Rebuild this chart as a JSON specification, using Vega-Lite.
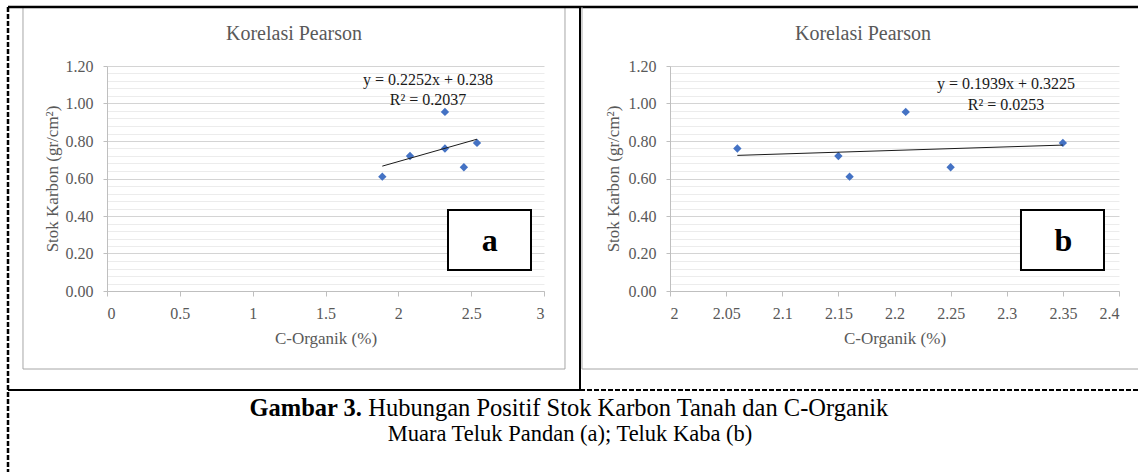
{
  "$schema": "https://vega.github.io/schema/vega-lite/v6.json",
  "padding": 0,
  "autosize": {"type": "pad"},
  "bounds": "flush",
  "spacing": 126,
  "background": "white",
  "config": {
    "view": {"stroke": null},
    "axis": {
      "labelFont": "Liberation Serif",
      "labelFontSize": 16,
      "labelColor": "#595959",
      "titleFont": "Liberation Serif",
      "titleFontSize": 17,
      "titleFontWeight": "normal",
      "titleColor": "#595959",
      "domainColor": "#bfbfbf",
      "tickColor": "#bfbfbf"
    },
    "text": {"font": "Liberation Serif"}
  },
  "hconcat": [
    {
      "width": 437,
      "height": 225,
      "data": {"values": [
        {"x": 1.89, "y": 0.61},
        {"x": 2.08, "y": 0.72},
        {"x": 2.32, "y": 0.76},
        {"x": 2.32, "y": 0.955},
        {"x": 2.45, "y": 0.66},
        {"x": 2.54, "y": 0.79}
      ]},
      "layer": [
        {
          "data": {"values": [{}]},
          "mark": {"type": "rect", "fill": "white", "opacity": 0},
          "encoding": {
            "x": {"datum": -0.72769, "type": "quantitative", "scale": {"domain": [0, 3], "nice": false, "zero": false}},
            "x2": {"datum": 7.08467},
            "y": {"datum": 1.54667, "type": "quantitative", "scale": {"domain": [0, 1.2], "nice": false, "zero": false}},
            "y2": {"datum": -0.97067}
          }
        },
        {
          "data": {"values": [{}]},
          "mark": {"type": "rect", "filled": false, "stroke": "#a6a6a6", "strokeWidth": 1},
          "encoding": {
            "x": {"datum": -0.57666, "type": "quantitative"},
            "x2": {"datum": 3.14416},
            "y": {"datum": 1.51467, "type": "quantitative"},
            "y2": {"datum": -0.416}
          }
        },
        {
          "mark": {"type": "point", "shape": "diamond", "filled": true, "color": "#4472C4", "size": 70, "opacity": 1},
          "encoding": {
            "x": {
              "field": "x", "type": "quantitative",
              "scale": {"domain": [0, 3], "nice": false, "zero": false},
              "axis": {
                "title": "C-Organik (%)",
                "values": [0, 0.5, 1, 1.5, 2, 2.5, 3],
                "tickCount": 100,
                "format": "~g",
                "grid": false,
                "tickSize": 5,
                "labelPadding": 9,
                "titlePadding": 9,
                "labelFont": "Liberation Serif",
                "titleFont": "Liberation Serif"
              }
            },
            "y": {
              "field": "y", "type": "quantitative",
              "scale": {"domain": [0, 1.2], "nice": false, "zero": false},
              "axis": {
                "title": "Stok Karbon (gr/cm²)",
                "values": [0, 0.04, 0.08, 0.12, 0.16, 0.2, 0.24, 0.28, 0.32, 0.36, 0.4, 0.44, 0.48, 0.52, 0.56, 0.6, 0.64, 0.68, 0.72, 0.76, 0.8, 0.84, 0.88, 0.92, 0.96, 1, 1.04, 1.08, 1.12, 1.16, 1.2],
                "tickCount": 100,
                "labelExpr": "abs(datum.value*5-round(datum.value*5))<0.001 ? format(datum.value, '.2f') : ''",
                "labelOverlap": false,
                "grid": true,
                "gridColor": {"condition": {"test": "abs(datum.value*5-round(datum.value*5))<0.001", "value": "#d4d4d4"}, "value": "#ececec"},
                "tickOpacity": {"condition": {"test": "abs(datum.value*5-round(datum.value*5))<0.001", "value": 1}, "value": 0},
                "tickSize": 4,
                "labelPadding": 10,
                "titlePadding": 4,
                "labelFont": "Liberation Serif",
                "titleFont": "Liberation Serif"
              }
            }
          }
        },
        {
          "transform": [{"regression": "y", "on": "x"}],
          "mark": {"type": "line", "color": "#1a1a1a", "strokeWidth": 1},
          "encoding": {
            "x": {"field": "x", "type": "quantitative"},
            "y": {"field": "y", "type": "quantitative"}
          }
        },
        {
          "data": {"values": [{"t": "Korelasi Pearson"}]},
          "mark": {"type": "text", "fontSize": 20, "color": "#595959", "align": "center", "baseline": "middle"},
          "encoding": {
            "x": {"datum": 1.28375, "type": "quantitative"},
            "y": {"datum": 1.37067, "type": "quantitative"},
            "text": {"field": "t"}
          }
        },
        {
          "data": {"values": [{"t": "y = 0.2252x + 0.238", "ty": 1.1253}, {"t": "R² = 0.2037", "ty": 1.0171}]},
          "mark": {"type": "text", "fontSize": 16, "color": "#1a1a1a", "align": "center", "baseline": "middle"},
          "encoding": {
            "x": {"datum": 2.20366, "type": "quantitative"},
            "y": {"field": "ty", "type": "quantitative"},
            "text": {"field": "t"}
          }
        },
        {
          "data": {"values": [{}]},
          "mark": {"type": "rect", "fill": "white", "stroke": "black", "strokeWidth": 2},
          "encoding": {
            "x": {"datum": 2.34096, "type": "quantitative"},
            "x2": {"datum": 2.91076},
            "y": {"datum": 0.432, "type": "quantitative"},
            "y2": {"datum": 0.112}
          }
        },
        {
          "data": {"values": [{"t": "a"}]},
          "mark": {"type": "text", "fontSize": 32, "fontWeight": "bold", "color": "black", "align": "center", "baseline": "alphabetic"},
          "encoding": {
            "x": {"datum": 2.62723, "type": "quantitative"},
            "y": {"datum": 0.21333, "type": "quantitative"},
            "text": {"field": "t"}
          }
        },
        {
          "data": {"values": [{}]},
          "mark": {"type": "rule", "color": "black", "strokeWidth": 2.5},
          "encoding": {
            "x": {"datum": -0.67963, "type": "quantitative"},
            "x2": {"datum": 7.08467},
            "y": {"datum": 1.51467, "type": "quantitative"}
          }
        },
        {
          "data": {"values": [{}]},
          "mark": {"type": "rule", "color": "black", "strokeWidth": 2.5, "strokeDash": [5, 2]},
          "encoding": {
            "x": {"datum": -0.67963, "type": "quantitative"},
            "y": {"datum": 1.51467, "type": "quantitative"},
            "y2": {"datum": -0.97067}
          }
        },
        {
          "data": {"values": [{}]},
          "mark": {"type": "rule", "color": "black", "strokeWidth": 2},
          "encoding": {
            "x": {"datum": 3.24714, "type": "quantitative"},
            "y": {"datum": 1.51467, "type": "quantitative"},
            "y2": {"datum": -0.528}
          }
        },
        {
          "data": {"values": [{}]},
          "mark": {"type": "rule", "color": "black", "strokeWidth": 2},
          "encoding": {
            "x": {"datum": -0.67963, "type": "quantitative"},
            "x2": {"datum": 3.24714},
            "y": {"datum": -0.528, "type": "quantitative"}
          }
        },
        {
          "data": {"values": [{"t": "Gambar 3."}]},
          "mark": {"type": "text", "fontSize": 24.5, "fontWeight": "bold", "color": "black", "align": "right", "baseline": "alphabetic"},
          "encoding": {
            "x": {"datum": 1.75057, "type": "quantitative"},
            "y": {"datum": -0.6667, "type": "quantitative"},
            "text": {"field": "t"}
          }
        },
        {
          "data": {"values": [{"t": "Hubungan Positif Stok Karbon Tanah dan C-Organik"}]},
          "mark": {"type": "text", "fontSize": 24.5, "color": "black", "align": "left", "baseline": "alphabetic"},
          "encoding": {
            "x": {"datum": 1.79314, "type": "quantitative"},
            "y": {"datum": -0.6667, "type": "quantitative"},
            "text": {"field": "t"}
          }
        },
        {
          "data": {"values": [{"t": "Muara Teluk Pandan (a); Teluk Kaba (b)"}]},
          "mark": {"type": "text", "fontSize": 22.5, "color": "black", "align": "center", "baseline": "alphabetic"},
          "encoding": {
            "x": {"datum": 3.1785, "type": "quantitative"},
            "y": {"datum": -0.8, "type": "quantitative"},
            "text": {"field": "t"}
          }
        }
      ]
    },
    {
      "width": 449,
      "height": 225,
      "data": {"values": [
        {"x": 2.06, "y": 0.76},
        {"x": 2.15, "y": 0.72},
        {"x": 2.16, "y": 0.61},
        {"x": 2.21, "y": 0.955},
        {"x": 2.25, "y": 0.66},
        {"x": 2.35, "y": 0.79}
      ]},
      "layer": [
        {
          "mark": {"type": "point", "shape": "diamond", "filled": true, "color": "#4472C4", "size": 70, "opacity": 1},
          "encoding": {
            "x": {
              "field": "x", "type": "quantitative",
              "scale": {"domain": [2, 2.4], "nice": false, "zero": false},
              "axis": {
                "title": "C-Organik (%)",
                "values": [2, 2.05, 2.1, 2.15, 2.2, 2.25, 2.3, 2.35, 2.4],
                "tickCount": 100,
                "format": "~g",
                "grid": false,
                "tickSize": 5,
                "labelPadding": 9,
                "titlePadding": 9,
                "labelFont": "Liberation Serif",
                "titleFont": "Liberation Serif"
              }
            },
            "y": {
              "field": "y", "type": "quantitative",
              "scale": {"domain": [0, 1.2], "nice": false, "zero": false},
              "axis": {
                "title": "Stok Karbon (gr/cm²)",
                "values": [0, 0.04, 0.08, 0.12, 0.16, 0.2, 0.24, 0.28, 0.32, 0.36, 0.4, 0.44, 0.48, 0.52, 0.56, 0.6, 0.64, 0.68, 0.72, 0.76, 0.8, 0.84, 0.88, 0.92, 0.96, 1, 1.04, 1.08, 1.12, 1.16, 1.2],
                "tickCount": 100,
                "labelExpr": "abs(datum.value*5-round(datum.value*5))<0.001 ? format(datum.value, '.2f') : ''",
                "labelOverlap": false,
                "grid": true,
                "gridColor": {"condition": {"test": "abs(datum.value*5-round(datum.value*5))<0.001", "value": "#d4d4d4"}, "value": "#ececec"},
                "tickOpacity": {"condition": {"test": "abs(datum.value*5-round(datum.value*5))<0.001", "value": 1}, "value": 0},
                "tickSize": 4,
                "labelPadding": 10,
                "titlePadding": 6,
                "labelFont": "Liberation Serif",
                "titleFont": "Liberation Serif"
              }
            }
          }
        },
        {
          "transform": [{"regression": "y", "on": "x"}],
          "mark": {"type": "line", "color": "#1a1a1a", "strokeWidth": 1},
          "encoding": {
            "x": {"field": "x", "type": "quantitative"},
            "y": {"field": "y", "type": "quantitative"}
          }
        },
        {
          "data": {"values": [{}]},
          "mark": {"type": "rule", "color": "#a6a6a6", "strokeWidth": 1},
          "encoding": {
            "x": {"datum": 1.9216, "type": "quantitative"},
            "y": {"datum": 1.51467, "type": "quantitative"},
            "y2": {"datum": -0.416}
          }
        },
        {
          "data": {"values": [{}]},
          "mark": {"type": "rule", "color": "#a6a6a6", "strokeWidth": 1},
          "encoding": {
            "x": {"datum": 1.9216, "type": "quantitative"},
            "x2": {"datum": 2.41782},
            "y": {"datum": -0.416, "type": "quantitative"}
          }
        },
        {
          "data": {"values": [{}]},
          "mark": {"type": "rule", "color": "black", "strokeWidth": 2, "strokeDash": [5, 2]},
          "encoding": {
            "x": {"datum": 1.91982, "type": "quantitative"},
            "x2": {"datum": 2.41782},
            "y": {"datum": -0.528, "type": "quantitative"}
          }
        },
        {
          "data": {"values": [{"t": "Korelasi Pearson"}]},
          "mark": {"type": "text", "fontSize": 20, "color": "#595959", "align": "center", "baseline": "middle"},
          "encoding": {
            "x": {"datum": 2.17194, "type": "quantitative"},
            "y": {"datum": 1.37067, "type": "quantitative"},
            "text": {"field": "t"}
          }
        },
        {
          "data": {"values": [{"t": "y = 0.1939x + 0.3225", "ty": 1.1024}, {"t": "R² = 0.0253", "ty": 0.9904}]},
          "mark": {"type": "text", "fontSize": 16, "color": "#1a1a1a", "align": "center", "baseline": "middle"},
          "encoding": {
            "x": {"datum": 2.29933, "type": "quantitative"},
            "y": {"field": "ty", "type": "quantitative"},
            "text": {"field": "t"}
          }
        },
        {
          "data": {"values": [{}]},
          "mark": {"type": "rect", "fill": "white", "stroke": "black", "strokeWidth": 2},
          "encoding": {
            "x": {"datum": 2.31269, "type": "quantitative"},
            "x2": {"datum": 2.38664},
            "y": {"datum": 0.432, "type": "quantitative"},
            "y2": {"datum": 0.112}
          }
        },
        {
          "data": {"values": [{"t": "b"}]},
          "mark": {"type": "text", "fontSize": 32, "fontWeight": "bold", "color": "black", "align": "center", "baseline": "alphabetic"},
          "encoding": {
            "x": {"datum": 2.35056, "type": "quantitative"},
            "y": {"datum": 0.21333, "type": "quantitative"},
            "text": {"field": "t"}
          }
        }
      ]
    }
  ]
}
